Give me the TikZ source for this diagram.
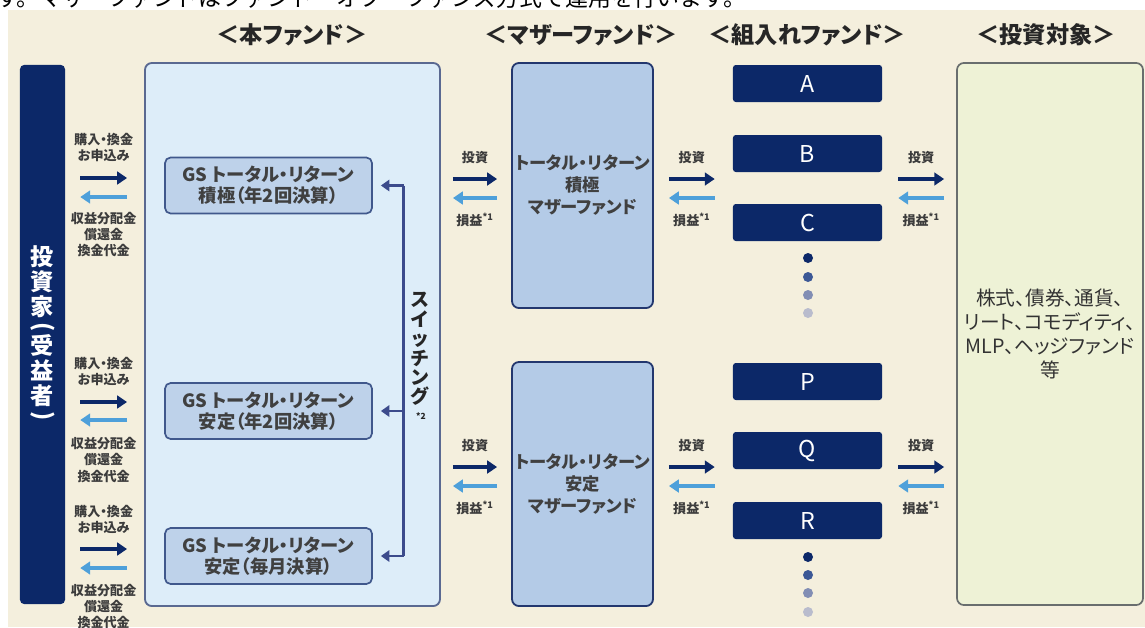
\documentclass[tikz,border=0pt]{standalone}
\usepackage{fontspec}
\setmainfont{Noto Sans CJK JP}[RawFeature=+palt]
\usetikzlibrary{calc,arrows.meta}

\definecolor{bgbeige}{RGB}{244,239,221}
\definecolor{fundnavy}{RGB}{12,40,104}
\definecolor{mainfill}{RGB}{221,237,249}
\definecolor{mainline}{RGB}{90,105,145}
\definecolor{subfill}{RGB}{190,210,234}
\definecolor{subline}{RGB}{64,88,140}
\definecolor{motherfill}{RGB}{180,203,231}
\definecolor{motherline}{RGB}{35,55,110}
\definecolor{skyarrow}{RGB}{78,160,218}
\definecolor{targetfill}{RGB}{238,242,214}
\definecolor{targetline}{RGB}{105,110,110}
\definecolor{switchline}{RGB}{60,75,140}
\definecolor{labgray}{RGB}{60,60,60}
\definecolor{dotmid}{RGB}{60,88,150}
\definecolor{dotpale}{RGB}{130,142,180}
\definecolor{dotlight}{RGB}{185,188,205}

\begin{document}
\begin{tikzpicture}[x=0.025cm, y=-0.025cm,
  header/.style={font=\fontsize{16.5}{18}\selectfont\bfseries, text=black!85},
  fwd/.style={draw=fundnavy, line width=3.2pt, -{Triangle[length=7pt,width=9pt]}},
  bwd/.style={draw=skyarrow, line width=3pt, -{Triangle[length=7pt,width=9pt]}},
  lab/.style={font=\fontsize{9.3}{11.5}\selectfont\bfseries, text=labgray, align=center, inner sep=0pt},
  subfund/.style={draw=subline, line width=1.2pt, fill=subfill, rounded corners=4pt,
    minimum width=5.175cm, minimum height=1.4cm, align=center, inner sep=0pt,
    font=\fontsize{13}{14.9}\selectfont\bfseries, text=black!75},
  mother/.style={draw=motherline, line width=1.3pt, fill=motherfill, rounded corners=5pt,
    minimum width=3.525cm, align=center, inner sep=0pt,
    font=\fontsize{12.3}{15.6}\selectfont\bfseries, text=black!75},
  comp/.style={fill=fundnavy, rounded corners=2pt, minimum width=3.725cm, minimum height=0.925cm,
    inner sep=0pt, text=white, font=\fontsize{16.5}{16}\selectfont},
  fdot/.style={circle, inner sep=0pt, minimum size=0.25cm},
  swarrow/.style={draw=switchline, line width=2pt, -{Triangle[length=6pt,width=8pt]}, shorten >=5.7pt},
]
\path[use as bounding box] (0,0) rectangle (1145,627);
\clip (0,0) rectangle (1145,627);

% Background and cut off text line
\fill[white] (0,0) rectangle (1145,627);
\node[anchor=base west, inner sep=0pt, font=\fontsize{16.3}{18}\selectfont\addfontfeatures{RawFeature=-palt}] (topline) at (-4,6) {す。マザーファンドはファンド・オブ・ファンズ方式で運用を行います。};
\fill[bgbeige] (8,10) rectangle (1145,627);

% Column headers
\node[header] (hmain) at (292,35) {＜本ファンド＞};
\node[header] (hmother) at (581,35) {＜マザーファンド＞};
\node[header] (hcomp) at (807,35) {＜組入れファンド＞};
\node[header] (htarget) at (1046,35) {＜投資対象＞};

% Investor bar
\node[fill=fundnavy, rounded corners=3pt, minimum width=1.125cm, minimum height=13.475cm, inner sep=0pt,
  text=white, align=center, font=\fontsize{16.5}{17.8}\selectfont\bfseries] (investor) at (42.5,334.5)
  {投\\資\\家\\[-4pt]\rotatebox[origin=c]{-90}{(}\\[-4pt]受\\益\\者\\[-4pt]\rotatebox[origin=c]{-90}{)}};

% Main fund block with its three funds
\node[draw=mainline, line width=1.3pt, fill=mainfill, rounded corners=5pt,
  minimum width=7.375cm, minimum height=13.575cm] (main) at (292.5,334.5) {};
\node[subfund] (gs1) at (268.5,185.5) {GS トータル・リターン\\積極（年2回決算）};
\node[subfund] (gs2) at (268.5,411) {GS トータル・リターン\\安定（年2回決算）};
\node[subfund] (gs3) at (268.5,556) {GS トータル・リターン\\安定（毎月決算）};

% Switching between the funds
\coordinate (swtop) at ($(gs1.east)+(31,0)$);
\coordinate (swbot) at (swtop |- gs3.east);
\draw[draw=switchline, line width=2pt] (swtop) -- (swbot);
\draw[swarrow] (swtop) -- (gs1.east);
\draw[swarrow] (swtop |- gs2.east) -- (gs2.east);
\draw[swarrow] (swbot) -- (gs3.east);
\node[align=center, inner sep=0pt, text=black!85, font=\fontsize{13.5}{13.8}\selectfont\bfseries] (switchlab)
  at ($(swtop)!0.5!(swbot)+(16,-15)$) {ス\\イ\\ッ\\チ\\ン\\グ\\[-3pt]{\fontsize{6}{6}\selectfont\ *2}};

% Investor <-> main fund
\draw[fwd] ($(investor.east |- gs1)+(15,-7.5)$) -- node[above=10pt, lab] {購入・換金\\お申込み} ($(main.west |- gs1)+(-17,-7.5)$);
\draw[bwd] ($(main.west |- gs1)+(-17,11.5)$) -- node[below=9pt, lab] {収益分配金\\償還金\\換金代金} ($(investor.east |- gs1)+(15,11.5)$);
\draw[fwd] ($(investor.east |- gs2)+(15,-9)$) -- node[above=10pt, lab] {購入・換金\\お申込み} ($(main.west |- gs2)+(-17,-9)$);
\draw[bwd] ($(main.west |- gs2)+(-17,9)$) -- node[below=11pt, lab] {収益分配金\\償還金\\換金代金} ($(investor.east |- gs2)+(15,9)$);
\draw[fwd] ($(investor.east |- gs3)+(15,-7)$) -- node[above=9pt, lab] {購入・換金\\お申込み} ($(main.west |- gs3)+(-17,-7)$);
\draw[bwd] ($(main.west |- gs3)+(-17,12)$) -- node[below=10pt, lab] {収益分配金\\償還金\\換金代金} ($(investor.east |- gs3)+(15,12)$);

% Mother funds
\node[mother, minimum height=6.125cm] (mother1) at (582.5,185.5) {トータル・リターン\\積極\\マザーファンド};
\node[mother, minimum height=6.1cm] (mother2) at (582.5,484) {トータル・リターン\\安定\\マザーファンド};

% Main fund <-> mother funds
\draw[fwd] ($(main.east |- mother1.east)+(12,-6.5)$) -- node[above=9pt, lab] {投資} ($(mother1.west)+(-14,-6.5)$);
\draw[bwd] ($(mother1.west)+(-14,12.5)$) -- node[below=9pt, lab] {損益\textsuperscript{*1}} ($(main.east |- mother1.east)+(12,12.5)$);
\draw[fwd] ($(main.east |- mother2.east)+(12,-17)$) -- node[above=9pt, lab] {投資} ($(mother2.west)+(-14,-17)$);
\draw[bwd] ($(mother2.west)+(-14,2)$) -- node[below=9pt, lab] {損益\textsuperscript{*1}} ($(main.east |- mother2.east)+(12,2)$);

% Component funds
\foreach \name/\yy in {A/83.5, B/153.5, C/222.5, P/381.5, Q/450.5, R/520.5}
  \node[comp] (comp\name) at (807.5,\yy) {\name};
\foreach \yy/\cc [count=\i] in {258/fundnavy, 277/dotmid, 295/dotpale, 313/dotlight}
  \node[fdot, fill=\cc] (dotu\i) at (808,\yy) {};
\foreach \yy/\cc [count=\i] in {557/fundnavy, 575/dotmid, 593/dotpale, 612/dotlight}
  \node[fdot, fill=\cc] (dotl\i) at (808,\yy) {};

% Mother funds <-> component funds
\draw[fwd] ($(mother1.east)+(15,-6.5)$) -- node[above=9pt, lab] {投資} ($(compB.west |- mother1.east)+(-18,-6.5)$);
\draw[bwd] ($(compB.west |- mother1.east)+(-18,12.5)$) -- node[below=9pt, lab] {損益\textsuperscript{*1}} ($(mother1.east)+(15,12.5)$);
\draw[fwd] ($(mother2.east)+(15,-17)$) -- node[above=9pt, lab] {投資} ($(compQ.west |- mother2.east)+(-18,-17)$);
\draw[bwd] ($(compQ.west |- mother2.east)+(-18,2)$) -- node[below=9pt, lab] {損益\textsuperscript{*1}} ($(mother2.east)+(15,2)$);

% Investment targets
\node[draw=targetline, line width=1.2pt, fill=targetfill, rounded corners=5pt,
  minimum width=4.65cm, minimum height=13.55cm, align=center, inner sep=0pt,
  font=\fontsize{14}{17}\selectfont, text=black!80] (target) at (1050,334)
  {株式、債券、通貨、\\リート、コモディティ、\\MLP、ヘッジファンド\\等};

% Component funds <-> targets
\draw[fwd] ($(compB.east |- mother1.east)+(16,-6.5)$) -- node[above=9pt, lab] {投資} ($(target.west |- mother1.east)+(-12,-6.5)$);
\draw[bwd] ($(target.west |- mother1.east)+(-12,12.5)$) -- node[below=9pt, lab] {損益\textsuperscript{*1}} ($(compB.east |- mother1.east)+(16,12.5)$);
\draw[fwd] ($(compQ.east |- mother2.east)+(16,-17)$) -- node[above=9pt, lab] {投資} ($(target.west |- mother2.east)+(-12,-17)$);
\draw[bwd] ($(target.west |- mother2.east)+(-12,2)$) -- node[below=9pt, lab] {損益\textsuperscript{*1}} ($(compQ.east |- mother2.east)+(16,2)$);

\end{tikzpicture}
\end{document}
